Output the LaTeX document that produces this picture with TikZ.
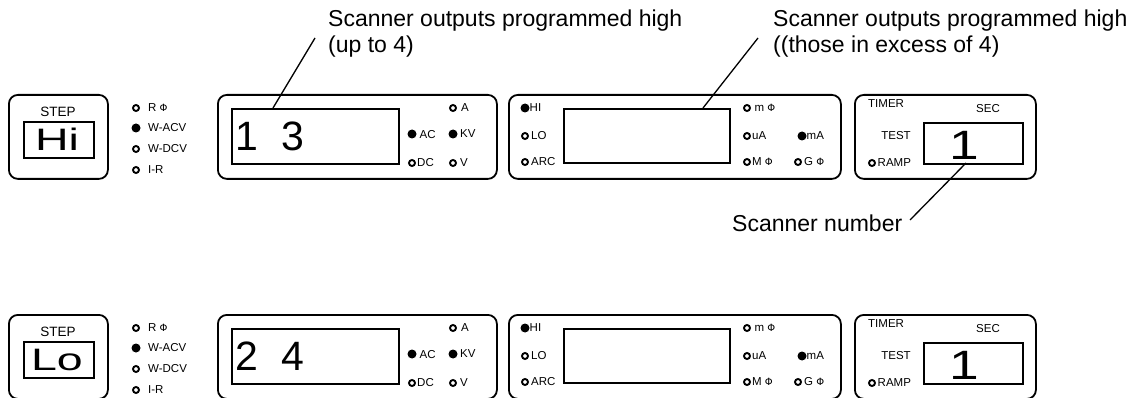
\documentclass[tikz,border=0pt]{standalone}
\usepackage{fontspec}
\usepackage{graphicx}
\setmainfont{Liberation Sans}
\newfontfamily\symfont{DejaVu Sans}
\newcommand{\ohm}{{\fontsize{10}{11}\selectfont\symfont Φ}}
\begin{document}
\begin{tikzpicture}[x=1pt,y=-1pt,
  outer/.style={draw, line width=1.8pt, rounded corners=9pt, inner sep=0pt, anchor=north west},
  inner/.style={draw, line width=1.8pt, inner sep=0pt, anchor=north west},
  lampoff/.style={circle, draw, line width=1.9pt, inner sep=0pt, minimum size=6pt},
  lampon/.style={circle, fill, inner sep=0pt, minimum size=9pt},
  lbl/.style={anchor=west, inner sep=0pt, font=\fontsize{11.5}{13}\selectfont},
  clbl/.style={inner sep=0pt, font=\fontsize{11.5}{13}\selectfont},
  big/.style={inner sep=0pt, font=\fontsize{41}{44}\selectfont},
  ann/.style={anchor=base west, inner sep=0pt, font=\fontsize{23}{26}\selectfont},
  leader/.style={line width=1.3pt}
]
\useasboundingbox (0,0) rectangle (1133,398);

\foreach \r/\dy/\stepval/\digits in {t/0/Hi/1 \ 3, b/220/Lo/2 \ 4} {
\begin{scope}[yshift=-\dy pt]
  % STEP box
  \node[outer, minimum width=99pt, minimum height=84pt] (\r-step) at (8,94) {};
  \node[inner, minimum width=70pt, minimum height=36pt] (\r-stepin) at (23,121) {};
  \node[clbl, font=\fontsize{13.5}{15}\selectfont] (\r-steplbl) at (58,112) {STEP};
  \node[inner sep=0pt, font=\fontsize{31}{34}\selectfont] (\r-stepval) at (57,139.5) {\scalebox{1.5}[1]{\stepval}};
  % mode lamps
  \node[lampoff] (\r-lR) at (136,108) {};
  \node[lbl] (\r-tR) at (148,108) {R \ohm};
  \node[lampon] (\r-lWA) at (136,128) {};
  \node[lbl] (\r-tWA) at (148,128) {W-ACV};
  \node[lampoff] (\r-lWD) at (136,149) {};
  \node[lbl] (\r-tWD) at (148,149) {W-DCV};
  \node[lampoff] (\r-lIR) at (136,170) {};
  \node[lbl] (\r-tIR) at (148,170) {I-R};
  % panel A
  \node[outer, minimum width=279pt, minimum height=84pt] (\r-pa) at (217,94) {};
  \node[inner, minimum width=167pt, minimum height=55pt] (\r-pain) at (231,108) {};
  \node[big, anchor=west] (\r-dig) at (235.5,136) {\digits};
  \node[lampoff] (\r-lA) at (453,108) {};
  \node[lbl] (\r-tA) at (461,108) {A};
  \node[lampon] (\r-lAC) at (412,134) {};
  \node[lbl] (\r-tAC) at (419.5,135) {AC};
  \node[lampon] (\r-lKV) at (453,134) {};
  \node[lbl] (\r-tKV) at (460,134) {KV};
  \node[lampoff] (\r-lDC) at (412,163) {};
  \node[lbl] (\r-tDC) at (417,163) {DC};
  \node[lampoff] (\r-lV) at (453,163) {};
  \node[lbl] (\r-tV) at (460,163) {V};
  % panel B
  \node[outer, minimum width=332pt, minimum height=84pt] (\r-pb) at (508,94) {};
  \node[inner, minimum width=166pt, minimum height=54pt] (\r-pbin) at (563,108) {};
  \node[lampon] (\r-lHI) at (525,108) {};
  \node[lbl] (\r-tHI) at (529.5,108) {HI};
  \node[lampoff] (\r-lLO) at (525,136) {};
  \node[lbl] (\r-tLO) at (531,136) {LO};
  \node[lampoff] (\r-lARC) at (525,162) {};
  \node[lbl] (\r-tARC) at (531,162) {ARC};
  \node[lampoff] (\r-lm) at (747,108) {};
  \node[lbl] (\r-tm) at (754.5,108) {m \ohm};
  \node[lampoff] (\r-luA) at (747,136) {};
  \node[lbl] (\r-tuA) at (752,136) {uA};
  \node[lampoff] (\r-lM) at (747,162) {};
  \node[lbl] (\r-tM) at (752,162) {M \ohm};
  \node[lampon] (\r-lmA) at (802,136) {};
  \node[lbl] (\r-tmA) at (806.5,136) {mA};
  \node[lampoff] (\r-lG) at (798,162) {};
  \node[lbl] (\r-tG) at (804,162) {G \ohm};
  % panel C
  \node[outer, minimum width=181pt, minimum height=84pt] (\r-pc) at (854,94) {};
  \node[inner, minimum width=99pt, minimum height=41pt] (\r-pcin) at (923,122) {};
  \node[lbl] (\r-timer) at (868,104) {TIMER};
  \node[clbl] (\r-sec) at (988,109) {SEC};
  \node[clbl] (\r-test) at (896,136) {TEST};
  \node[lampoff] (\r-lRAMP) at (872,163) {};
  \node[lbl] (\r-tRAMP) at (877.5,163) {RAMP};
  \node[big] (\r-num) at (964,145) {\scalebox{1.3}[1]{1}};
\end{scope}
}

% annotations
\node[ann] (ann1a) at (328,27) {Scanner outputs programmed high};
\node[ann] (ann1b) at (328,53) {(up to 4)};
\coordinate (c1s) at (315,38);
\coordinate (c1e) at (273,108);
\draw[leader] (c1s) -- (c1e);

\node[ann] (ann2a) at (773,27) {Scanner outputs programmed high};
\node[ann] (ann2b) at (773,53) {((those in excess of 4)};
\coordinate (c2s) at (758,38);
\coordinate (c2e) at (703,108);
\draw[leader] (c2s) -- (c2e);

\node[ann] (ann3) at (732,231.5) {Scanner number};
\coordinate (c3s) at (910,220);
\coordinate (c3e) at (966,163);
\draw[leader] (c3s) -- (c3e);
\end{tikzpicture}
\end{document}
